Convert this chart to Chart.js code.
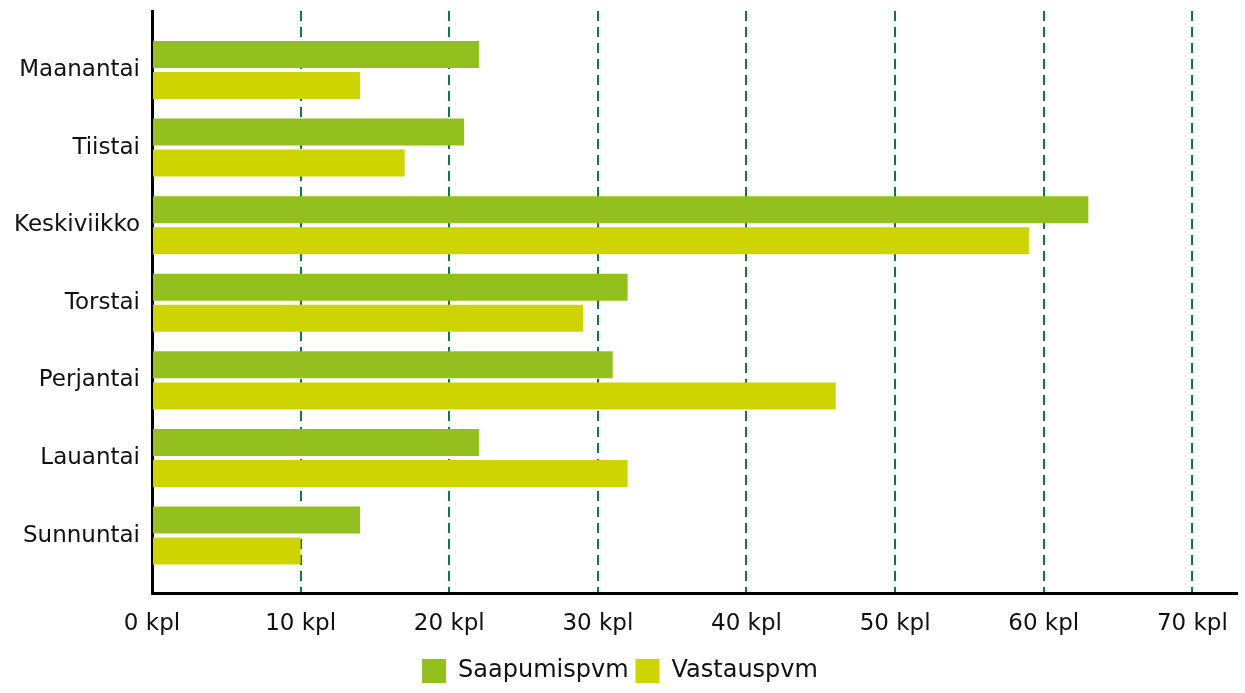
<!DOCTYPE html>
<html>
<head>
<meta charset="utf-8">
<script src="https://cdn.jsdelivr.net/npm/chart.js@4"></script>
<style>
  html, body { margin: 0; padding: 0; background: #ffffff; }
  #wrap { width: 1245px; height: 693px; }
</style>
</head>
<body>
<div id="wrap"><canvas id="c" width="1245" height="693"></canvas></div>
<script>
const categories = ["Maanantai", "Tiistai", "Keskiviikko", "Torstai", "Perjantai", "Lauantai", "Sunnuntai"];
const seriesNames = ["Saapumispvm", "Vastauspvm"];
const saapumispvm = [22, 21, 63, 32, 31, 22, 14];
const vastauspvm = [14, 17, 59, 29, 46, 32, 10];
const xTickValues = [0, 10, 20, 30, 40, 50, 60, 70];
const unit = " kpl";

const FONT = "'DejaVu Sans', sans-serif";

function toPoints(vals) {
  return vals.map((v, i) => ({ x: v, y: i }));
}

new Chart(document.getElementById('c'), {
  type: 'bar',
  data: {
    datasets: [
      {
        label: seriesNames[0],
        data: toPoints(saapumispvm),
        backgroundColor: '#94c01f',
        borderWidth: 0,
        categoryPercentage: 0.8,
        barPercentage: 0.87
      },
      {
        label: seriesNames[1],
        data: toPoints(vastauspvm),
        backgroundColor: '#cdd400',
        borderWidth: 0,
        categoryPercentage: 0.8,
        barPercentage: 0.87
      }
    ]
  },
  options: {
    indexAxis: 'y',
    responsive: false,
    animation: false,
    devicePixelRatio: 1,
    layout: { padding: { top: 11, right: 5, left: 0, bottom: 0 } },
    plugins: {
      tooltip: { enabled: false },
      legend: {
        position: 'bottom',
        labels: {
          font: { family: FONT, size: 24 },
          color: '#111111',
          boxWidth: 24,
          boxHeight: 24,
          padding: 7
        }
      }
    },
    scales: {
      x: {
        type: 'linear',
        min: 0,
        max: 73,
        afterBuildTicks: (axis) => {
          axis.ticks = xTickValues.map(v => ({ value: v }));
        },
        afterFit: (scale) => { scale.height = 59; },
        ticks: {
          callback: (v) => v + unit,
          font: { family: FONT, size: 23 },
          color: '#111111',
          padding: 17,
          maxRotation: 0
        },
        grid: {
          drawTicks: false,
          color: (ctx) => (ctx.tick && ctx.tick.value === 0) ? 'rgba(0,0,0,0)' : '#137a3e',
          lineWidth: 2
        },
        border: { display: true, color: '#000000', width: 3, dash: [10, 6] }
      },
      y: {
        type: 'linear',
        offset: false,
        reverse: true,
        min: -0.76,
        max: 6.74,
        afterBuildTicks: (axis) => {
          axis.ticks = categories.map((c, i) => ({ value: i }));
        },
        afterFit: (scale) => {
          scale.width = 152;
          scale.paddingTop = 0;
          scale.paddingBottom = 0;
        },
        ticks: {
          callback: (v) => categories[v],
          font: { family: FONT, size: 23 },
          color: '#111111',
          padding: 12
        },
        grid: { display: false, drawTicks: false, offset: false },
        border: { display: true, color: '#000000', width: 3 }
      }
    }
  }
});
</script>
</body>
</html>
